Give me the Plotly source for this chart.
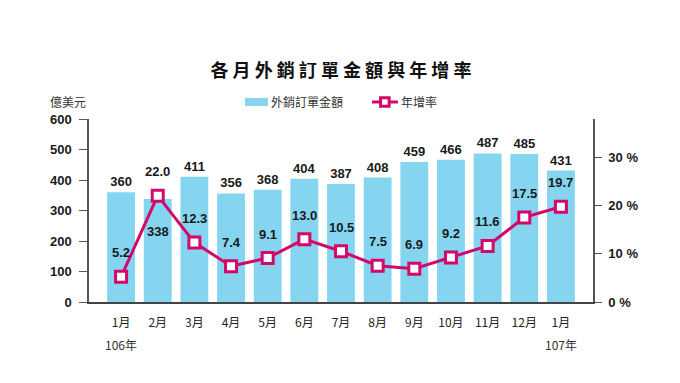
import plotly.graph_objects as go

months = ["1月", "2月", "3月", "4月", "5月", "6月", "7月", "8月", "9月", "10月", "11月", "12月", "1月 "]
tick_text = ["1月", "2月", "3月", "4月", "5月", "6月", "7月", "8月", "9月", "10月", "11月", "12月", "1月"]
years = {0: "106年", 12: "107年"}
orders = [360, 338, 411, 356, 368, 404, 387, 408, 459, 466, 487, 485, 431]
growth = [5.2, 22.0, 12.3, 7.4, 9.1, 13.0, 10.5, 7.5, 6.9, 9.2, 11.6, 17.5, 19.7]
series_names = ["外銷訂單金額", "年增率"]

BAR = "#85D5F1"
LINE = "#D2096B"
LBL = dict(family="Liberation Sans Narrow, Arial Narrow, Liberation Sans, Arial", size=13,
           color="#1a1a1a", weight="bold")
CJK = "Noto Sans CJK TC"

fig = go.Figure()
fig.add_trace(go.Bar(
    x=months, y=orders, name=series_names[0], marker_color=BAR,
    marker_line_width=0, width=0.76,
    text=[str(v) for v in orders],
    textposition=["none" if i == 1 else "outside" for i in range(len(orders))],
    textfont=LBL, cliponaxis=False,
))
fig.add_trace(go.Scatter(
    x=months, y=growth, name=series_names[1], yaxis="y2", mode="lines+markers",
    line=dict(color=LINE, width=3),
    marker=dict(symbol="square", size=11, color="white", line=dict(color=LINE, width=3)),
    cliponaxis=False,
))

ann = []
for m, g in zip(months, growth):
    ann.append(dict(x=m, y=g, xref="x", yref="y2", text=f"{g:.1f}", showarrow=False,
                    yshift=24, font=LBL))
ann.append(dict(x=months[1], y=orders[1], xref="x", yref="y", text=str(orders[1]),
                showarrow=False, yshift=-33, font=LBL))
for i, yr in years.items():
    ann.append(dict(x=months[i], y=0, xref="x", yref="paper", text=yr, showarrow=False,
                    yshift=-53, font=dict(family=CJK, size=12, color="#333")))
ann.append(dict(x=-0.0417, y=1.093, xref="paper", yref="paper", text="億美元",
                showarrow=False, xanchor="center", yanchor="middle",
                font=dict(family=CJK, size=12, color="#333")))
# legend texts
LEGF = dict(family=CJK, size=12, color="#333")
ann.append(dict(x=0.357, y=1.093, xref="paper", yref="paper", text=series_names[0],
                showarrow=False, xanchor="left", yanchor="middle", font=LEGF))
ann.append(dict(x=0.615, y=1.093, xref="paper", yref="paper", text=series_names[1],
                showarrow=False, xanchor="left", yanchor="middle", font=LEGF))

shapes = [
    dict(type="rect", xref="paper", yref="paper", x0=0.3095, x1=0.3552, y0=1.071, y1=1.115,
         fillcolor=BAR, line=dict(width=0)),
    dict(type="line", xref="paper", yref="paper", x0=0.5615, x1=0.613, y0=1.093, y1=1.093,
         line=dict(color=LINE, width=3)),
    dict(type="rect", xref="paper", yref="paper", x0=0.587 - 0.0085, x1=0.587 + 0.0085,
         y0=1.093 - 0.023, y1=1.093 + 0.023, fillcolor="white", line=dict(color=LINE, width=3)),
]

fig.update_layout(
    width=672, height=375,
    margin=dict(l=81, r=87, t=111, b=81, autoexpand=False),
    plot_bgcolor="white", paper_bgcolor="white",
    title=dict(text="<b>各 月 外 銷 訂 單 金 額 與 年 增 率</b>", x=0.4955, xanchor="center",
               y=1 - 63 / 375, yanchor="middle",
               font=dict(family=CJK, size=18, color="#111")),
    showlegend=False,
    bargap=0.24,
    annotations=ann,
    shapes=shapes,
    xaxis=dict(tickmode="array", tickvals=months, ticktext=tick_text, automargin=False,
               showline=True, linecolor="#444", linewidth=1.5, ticks="",
               ticklabelstandoff=9,
               tickfont=dict(family=CJK, size=12, color="#222")),
    yaxis=dict(range=[0, 600], dtick=100, showgrid=False, zeroline=False, automargin=False,
               showline=True, linecolor="#555", linewidth=1.5, ticks="outside", ticklen=8,
               tickcolor="#555", ticklabelstandoff=5,
               tickfont=dict(family="Liberation Sans, Arial", size=13, color="#1a1a1a", weight="bold")),
    yaxis2=dict(range=[0, 30 * 183 / 145], overlaying="y", side="right", automargin=False,
                tickvals=[0, 10, 20, 30], ticktext=["0 %", "10 %", "20 %", "30 %"],
                showgrid=False, zeroline=False,
                showline=True, linecolor="#555", linewidth=1.5, ticks="outside", ticklen=7,
                tickcolor="#555", ticklabelstandoff=4,
                tickfont=dict(family="Liberation Sans, Arial", size=13, color="#1a1a1a", weight="bold")),
)

fig.write_html("out.html")
